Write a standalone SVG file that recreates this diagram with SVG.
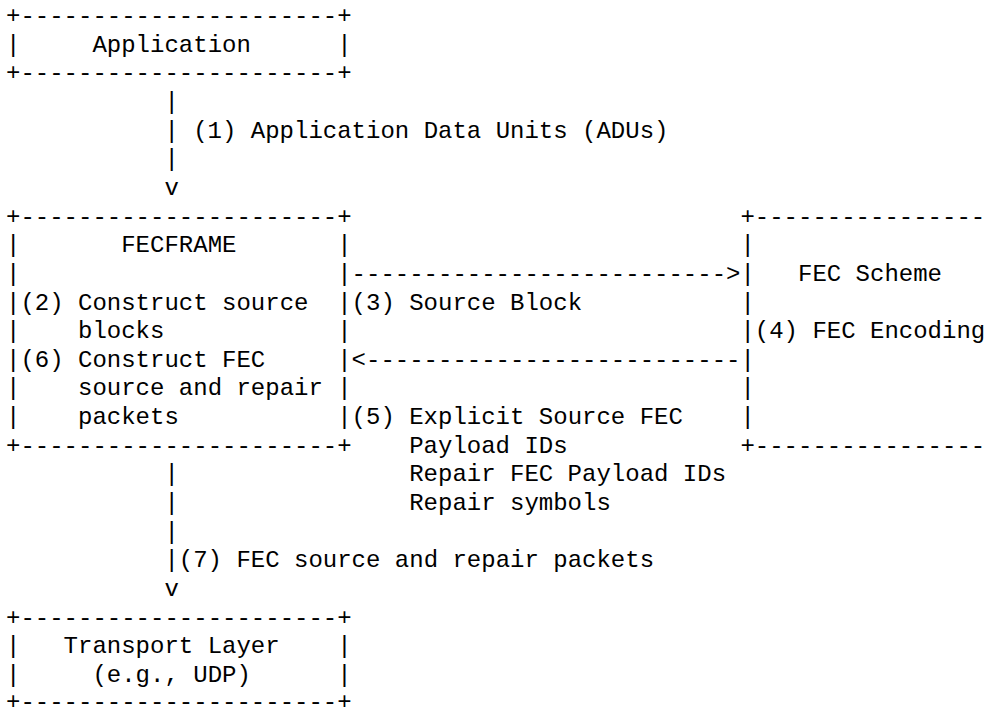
<svg xmlns="http://www.w3.org/2000/svg" width="990" height="711" viewBox="0 0 990 711" xml:space="preserve">
<style>
.t { font-family: "Liberation Mono", "Courier New", monospace; font-size: 24px; fill: #000; white-space: pre; }
</style>
<rect x="0" y="0" width="990" height="711" fill="#fff"/>
<g id="node-application">
<text class="t"><tspan x="6" y="23">+----------------------+</tspan><tspan x="6" y="51.65">|     Application      |</tspan><tspan x="6" y="80.3">+----------------------+</tspan></text>
</g>
<g id="node-fecframe">
<text class="t"><tspan x="6" y="223.55">+----------------------+</tspan><tspan x="6" y="252.2">|       FECFRAME       |</tspan><tspan x="6" y="280.85">|                      |</tspan><tspan x="6" y="309.5">|(2) Construct source  |</tspan><tspan x="6" y="338.15">|    blocks            |</tspan><tspan x="6" y="366.8">|(6) Construct FEC     |</tspan><tspan x="6" y="395.45">|    source and repair |</tspan><tspan x="6" y="424.1">|    packets           |</tspan><tspan x="6" y="452.75">+----------------------+</tspan></text>
</g>
<g id="node-fec-scheme">
<text class="t"><tspan x="740.4" y="223.55">+----------------</tspan><tspan x="740.4" y="252.2">|</tspan><tspan x="740.4" y="280.85">|   FEC Scheme</tspan><tspan x="740.4" y="309.5">|</tspan><tspan x="740.4" y="338.15">|(4) FEC Encoding</tspan><tspan x="740.4" y="366.8">|</tspan><tspan x="740.4" y="395.45">|</tspan><tspan x="740.4" y="424.1">|</tspan><tspan x="740.4" y="452.75">+----------------</tspan></text>
</g>
<g id="node-transport">
<text class="t"><tspan x="6" y="624.65">+----------------------+</tspan><tspan x="6" y="653.3">|   Transport Layer    |</tspan><tspan x="6" y="681.95">|     (e.g., UDP)      |</tspan><tspan x="6" y="708.5">+----------------------+</tspan></text>
</g>
<g id="connectors">
<text class="t"><tspan x="164.4" y="108.95">|</tspan><tspan x="164.4" y="137.6">| (1) Application Data Units (ADUs)</tspan><tspan x="164.4" y="166.25">|</tspan><tspan x="164.4" y="194.9">v</tspan></text>
<text class="t"><tspan x="351.6" y="280.85">--------------------------&gt;</tspan><tspan x="351.6" y="309.5">(3) Source Block</tspan></text>
<text class="t"><tspan x="351.6" y="366.8">&lt;--------------------------</tspan><tspan x="351.6" y="424.1">(5) Explicit Source FEC</tspan><tspan x="409.2" y="452.75">Payload IDs</tspan><tspan x="409.2" y="481.4">Repair FEC Payload IDs</tspan><tspan x="409.2" y="510.05">Repair symbols</tspan></text>
<text class="t"><tspan x="164.4" y="481.4">|</tspan><tspan x="164.4" y="510.05">|</tspan><tspan x="164.4" y="538.7">|</tspan><tspan x="164.4" y="567.35">|(7) FEC source and repair packets</tspan><tspan x="164.4" y="596">v</tspan></text>
</g>
</svg>
